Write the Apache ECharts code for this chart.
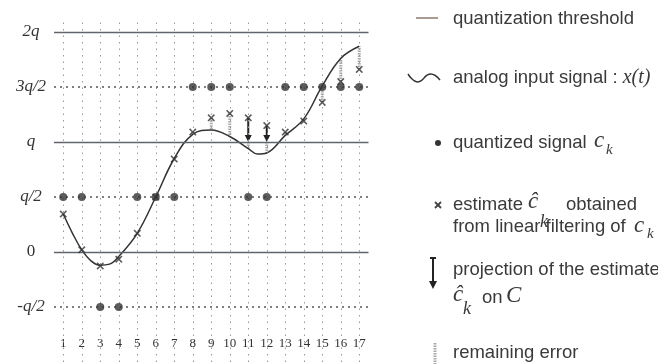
<!DOCTYPE html>
<html><head><meta charset="utf-8">
<script src="https://cdn.jsdelivr.net/npm/echarts@6/dist/echarts.min.js"></script>
<style>html,body{margin:0;padding:0;background:#fff}#c{width:658px;height:364px}</style>
</head><body><div id="c"></div>
<script>
// ---- data (values in units of q) ----
const kValues = [1,2,3,4,5,6,7,8,9,10,11,12,13,14,15,16,17];
const yTickValues = [-0.5, 0, 0.5, 1, 1.5, 2];
const yTickLabels = ['-q/2', '0', 'q/2', 'q', '3q/2', '2q'];
const thresholds = [0, 1, 2];
const levels = [-0.5, 0.5, 1.5];
const quantized = [0.5,0.5,-0.5,-0.5,0.5,0.5,0.5,1.5,1.5,1.5,0.5,0.5,1.5,1.5,1.5,1.5,1.5];
const estimate  = [0.345,0.02,-0.127,-0.065,0.17,0.5,0.845,1.09,1.22,1.26,1.22,1.15,1.09,1.19,1.36,1.55,1.66];
const projected = [0.345,0.02,-0.127,-0.065,0.17,0.5,0.845,1.09,1.22,1.26,1.0,1.0,1.09,1.19,1.36,1.55,1.66];
const curveT = [1,1.5,2,2.5,3,3.5,4,5,6,7,8,9,10,11,11.5,12,13,14,15,16,17];
const curveV = [0.345,0.17,0.02,-0.08,-0.12,-0.11,-0.04,0.17,0.5,0.85,1.07,1.11,1.05,0.94,0.89,0.9,1.06,1.21,1.51,1.76,1.87];

const xAtK = kValues.map(k => curveV[curveT.indexOf(k)]);
const errData = kValues.map((k,i) => [k, projected[i], xAtK[i]]);
const arrowData = kValues.map((k,i) => [k, estimate[i], projected[i]]).filter(d => d[1] !== d[2]);

const SANS = '"Liberation Sans", Arial, sans-serif';
const SERIF = '"Liberation Serif", "Times New Roman", serif';
const TXT = '#3a3a3a';
const FS = '18.5px ';
const XPATH = 'path://M0,1.5L1.5,0L5,3.5L8.5,0L10,1.5L6.5,5L10,8.5L8.5,10L5,6.5L1.5,10L0,8.5L3.5,5Z';

const chart = echarts.init(document.getElementById('c'), null, {renderer:'canvas'});

function t(x, y, text, font, extra) {
  return Object.assign({type:'text', x:x, y:y, silent:true,
    style:{text:text, font:font, fill:TXT, verticalAlign:'middle', align:'left'}}, extra || {});
}

const graphics = [
  {type:'line', shape:{x1:416,y1:18,x2:438,y2:18}, style:{stroke:'#8a7a70', lineWidth:1.5}},
  t(453, 19, 'quantization threshold', FS + SANS),
  {type:'polyline', shape:{points:[[408,74],[418,82],[430,74],[440,80]], smooth:0.5}, style:{stroke:'#333', lineWidth:1.5, fill:null}},
  {type:'text', x:453, y:78, style:{text:'analog input signal : {m|x(t)}', font:FS + SANS, fill:TXT, verticalAlign:'middle',
     rich:{m:{font:'italic 20px ' + SERIF, fill:TXT}}}},
  {type:'circle', shape:{cx:438, cy:143, r:3}, style:{fill:'#333'}},
  t(453, 143, 'quantized signal', FS + SANS),
  t(594, 141, 'c', 'italic 23px ' + SERIF),
  t(606, 150, 'k', 'italic 15px ' + SERIF),
  {type:'line', shape:{x1:435,y1:202,x2:441,y2:208}, style:{stroke:'#444', lineWidth:1.8}},
  {type:'line', shape:{x1:441,y1:202,x2:435,y2:208}, style:{stroke:'#444', lineWidth:1.8}},
  t(453, 205, 'estimate', FS + SANS),
  t(528, 202, 'ĉ', 'italic 23px ' + SERIF),
  t(540, 222, 'k', 'italic 18px ' + SERIF),
  t(566, 205, 'obtained', FS + SANS),
  t(453, 227, 'from linear filtering of', FS + SANS),
  t(634, 226, 'c', 'italic 23px ' + SERIF),
  t(647, 234, 'k', 'italic 15px ' + SERIF),
  {type:'line', shape:{x1:433,y1:258,x2:433,y2:283}, style:{stroke:'#222', lineWidth:2}},
  {type:'line', shape:{x1:430,y1:258,x2:436,y2:258}, style:{stroke:'#222', lineWidth:2}},
  {type:'polygon', shape:{points:[[429,281],[437,281],[433,289]]}, style:{fill:'#222'}},
  t(453, 270, 'projection of the estimate', FS + SANS),
  t(453, 295, 'ĉ', 'italic 23px ' + SERIF),
  t(463, 309, 'k', 'italic 18px ' + SERIF),
  t(482, 298, 'on', FS + SANS),
  t(506, 296, 'C', 'italic 23px ' + SERIF),
  {type:'line', shape:{x1:435,y1:343,x2:435,y2:364}, style:{stroke:'#aaa', lineWidth:3, lineDash:[1.5,1]}},
  t(453, 353, 'remaining error', FS + SANS)
];

const option = {
  animation: false,
  backgroundColor: '#fff',
  grid: {left:54, top:21, width:314.5, height:341, containLabel:false},
  xAxis: {type:'value', min:0.5, max:17.5,
    axisLine:{show:false, onZero:false}, axisTick:{show:false}, splitLine:{show:false},
    axisLabel:{customValues:kValues, inside:true, margin:12, color:'#333', fontFamily:SERIF, fontSize:13}},
  yAxis: {type:'value', min:-1, max:2.1,
    axisLine:{show:false, onZero:false}, axisTick:{show:false}, splitLine:{show:false},
    axisLabel:{customValues:yTickValues, align:'center', margin:23, color:'#333',
      fontFamily:SERIF, fontStyle:'italic', fontSize:17,
      formatter: v => { const s = yTickLabels[yTickValues.indexOf(v)]; return s === '0' ? '{u|0}' : s; },
      rich:{u:{fontStyle:'normal', fontFamily:SERIF, fontSize:17, color:'#333'}}}},
  graphic: graphics,
  series: [
    {type:'line', data:[], silent:true, z:1,
      markLine:{silent:true, symbol:['none','none'], label:{show:false}, animation:false,
        data: kValues.map(v => ({xAxis:v, lineStyle:{type:[1.5,5], color:'#999', width:1}}))
          .concat(levels.map(v => ({yAxis:v, lineStyle:{type:[2,4], color:'#555', width:1.5}})))
          .concat(thresholds.map(v => ({yAxis:v, lineStyle:{type:'solid', color:'#5f656b', width:1.4}})))}},
    {type:'custom', z:2, silent:true, data:errData, encode:{x:0, y:[1,2]},
      renderItem: (params, api) => {
        const p1 = api.coord([api.value(0), api.value(1)]);
        const p2 = api.coord([api.value(0), api.value(2)]);
        return {type:'line', shape:{x1:p1[0],y1:p1[1],x2:p2[0],y2:p2[1]},
          style:{stroke:'#aaa', lineWidth:3, lineDash:[1.5,1]}};
      }},
    {type:'line', z:3, silent:true, data:curveT.map((x,i)=>[x, curveV[i]]), smooth:0.4, showSymbol:false,
      lineStyle:{color:'#333', width:1.5}},
    {type:'custom', z:4, silent:true, data:arrowData, encode:{x:0, y:[1,2]},
      renderItem: (params, api) => {
        const p1 = api.coord([api.value(0), api.value(1)]);
        const p2 = api.coord([api.value(0), api.value(2)]);
        const dir = p2[1] > p1[1] ? 1 : -1;
        return {type:'group', children:[
          {type:'line', shape:{x1:p1[0],y1:p1[1],x2:p2[0],y2:p2[1]-dir*6}, style:{stroke:'#222', lineWidth:2}},
          {type:'polygon', shape:{points:[[p2[0]-3.5,p2[1]-dir*7],[p2[0]+3.5,p2[1]-dir*7],[p2[0],p2[1]]]}, style:{fill:'#222'}}
        ]};
      }},
    {type:'scatter', z:5, silent:true, data:kValues.map((k,i)=>[k, quantized[i]]), symbol:'circle', symbolSize:8,
      itemStyle:{color:'#333'}},
    {type:'scatter', z:6, silent:true, data:kValues.map((k,i)=>[k, estimate[i]]), symbol:XPATH, symbolSize:7.5,
      itemStyle:{color:'#333'}}
  ]
};
chart.setOption(option);
</script></body></html>
